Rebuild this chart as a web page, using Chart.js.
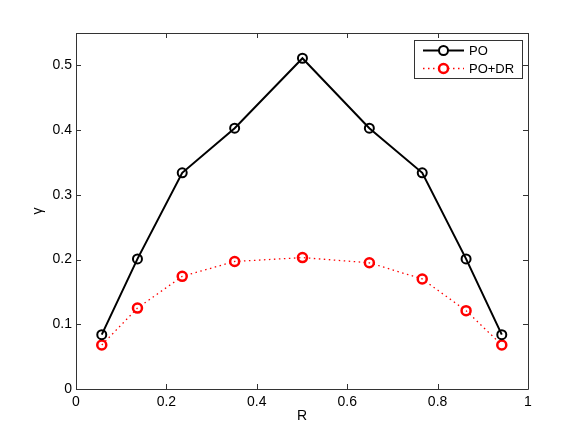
<!DOCTYPE html>
<html><head><meta charset="utf-8">
<script src="https://cdn.jsdelivr.net/npm/chart.js@4/dist/chart.umd.min.js"></script>
<style>html,body{margin:0;padding:0;background:#fff;}</style>
</head><body>
<canvas id="c" width="584" height="439"></canvas>
<script>
const rValues    = [0.057, 0.136, 0.235, 0.351, 0.501, 0.649, 0.766, 0.863, 0.942];
const poValues   = [0.084, 0.201, 0.334, 0.403, 0.511, 0.403, 0.334, 0.201, 0.084];
const poDrValues = [0.068, 0.125, 0.174, 0.197, 0.203, 0.195, 0.170, 0.121, 0.068];
const xTicks = [0, 0.2, 0.4, 0.6, 0.8, 1];
const yTicks = [0, 0.1, 0.2, 0.3, 0.4, 0.5];
const seriesNames = ['PO', 'PO+DR'];
const xTitle = 'R';
const yTitle = 'γ';

const FONT = "'Liberation Sans', Arial, Helvetica, sans-serif";
const AXIS_COLOR = '#333';

function toPoints(xs, ys) { return xs.map((x, i) => ({x: x, y: ys[i]})); }

const frame = {
  id: 'frame',
  beforeDatasetsDraw(chart) {
    const {ctx, chartArea: a, scales: {x, y}} = chart;
    ctx.save();
    ctx.strokeStyle = AXIS_COLOR;
    ctx.lineWidth = 1;
    ctx.beginPath();
    ctx.rect(Math.round(a.left) + 0.5, Math.round(a.top) + 0.5, Math.round(a.right - a.left), Math.round(a.bottom - a.top));
    ctx.stroke();
    const L = 5;
    ctx.beginPath();
    xTicks.forEach(v => {
      const px = Math.round(x.getPixelForValue(v)) + 0.5;
      ctx.moveTo(px, a.bottom); ctx.lineTo(px, a.bottom - L);
      ctx.moveTo(px, a.top); ctx.lineTo(px, a.top + L);
    });
    yTicks.forEach(v => {
      const py = Math.round(y.getPixelForValue(v)) + 0.5;
      ctx.moveTo(a.left, py); ctx.lineTo(a.left + L, py);
      ctx.moveTo(a.right, py); ctx.lineTo(a.right - L, py);
    });
    ctx.stroke();
    ctx.restore();
  },
  afterDraw(chart) {
    const {ctx} = chart;
    const bx = 414, by = 40, bw = 108, bh = 38;
    ctx.save();
    ctx.fillStyle = '#fff';
    ctx.fillRect(bx, by, bw, bh);
    ctx.strokeStyle = AXIS_COLOR;
    ctx.lineWidth = 1;
    ctx.strokeRect(bx + 0.5, by + 0.5, bw, bh);
    const rows = [50.5, 68.5];
    chart.data.datasets.forEach((ds, i) => {
      const cy = rows[i];
      ctx.strokeStyle = ds.borderColor;
      ctx.lineWidth = ds.borderWidth;
      ctx.setLineDash(ds.borderDash || []);
      ctx.beginPath(); ctx.moveTo(423, cy); ctx.lineTo(464, cy); ctx.stroke();
      ctx.setLineDash([]);
      ctx.lineWidth = ds.pointBorderWidth;
      ctx.strokeStyle = ds.pointBorderColor;
      ctx.fillStyle = '#fff';
      ctx.beginPath(); ctx.arc(443.5, cy, ds.pointRadius, 0, Math.PI * 2); ctx.fill(); ctx.stroke();
      ctx.fillStyle = '#000';
      ctx.font = '13px ' + FONT;
      ctx.textBaseline = 'middle';
      ctx.textAlign = 'left';
      ctx.fillText(ds.label, 469, cy + 0.5);
    });
    ctx.restore();
  }
};

new Chart(document.getElementById('c'), {
  type: 'scatter',
  data: {
    datasets: [
      {
        label: seriesNames[0],
        data: toPoints(rValues, poValues),
        showLine: true,
        borderColor: '#000',
        borderWidth: 2,
        pointRadius: 4.5,
        pointBorderWidth: 2,
        pointBorderColor: '#000',
        pointBackgroundColor: 'rgba(255,255,255,0)',
        pointHoverRadius: 4.5
      },
      {
        label: seriesNames[1],
        data: toPoints(rValues, poDrValues),
        showLine: true,
        borderColor: '#ff0000',
        borderWidth: 1.3,
        borderDash: [1.5, 3.5],
        pointRadius: 4.5,
        pointBorderWidth: 2.5,
        pointBorderColor: '#ff0000',
        pointBackgroundColor: 'rgba(255,255,255,0)',
        pointHoverRadius: 4.5
      }
    ]
  },
  options: {
    responsive: false,
    animation: false,
    devicePixelRatio: 1,
    layout: {padding: {top: 33, right: 56, bottom: 0, left: 0}},
    plugins: {legend: {display: false}, tooltip: {enabled: false}},
    scales: {
      x: {
        type: 'linear', min: 0, max: 1,
        grid: {display: false, drawTicks: false},
        border: {display: false},
        afterBuildTicks: s => { s.ticks = xTicks.map(v => ({value: v})); },
        afterFit: s => { s.height = 50; },
        ticks: {
          padding: 5, color: '#000', maxRotation: 0,
          font: {family: FONT, size: 14},
          callback: v => String(v)
        },
        title: {display: true, text: xTitle, color: '#000', font: {family: FONT, size: 14}, padding: {top: 0, bottom: 14}}
      },
      y: {
        type: 'linear', min: 0, max: 0.55,
        grid: {display: false, drawTicks: false},
        border: {display: false},
        afterBuildTicks: s => { s.ticks = yTicks.map(v => ({value: v})); },
        afterFit: s => { s.width = 76; },
        ticks: {
          padding: 4, color: '#000',
          font: {family: FONT, size: 14},
          callback: v => String(v)
        },
        title: {display: true, text: yTitle, color: '#000', font: {family: FONT, size: 14}, padding: {top: 30, bottom: 0}}
      }
    }
  },
  plugins: [frame]
});
</script>
</body></html>
